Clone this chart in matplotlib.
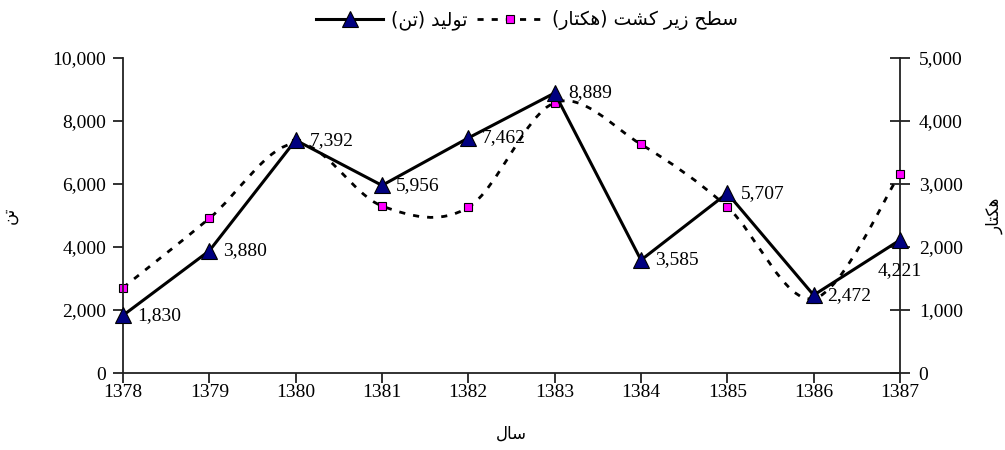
import matplotlib
matplotlib.use("Agg")
import matplotlib.pyplot as plt
from matplotlib.path import Path
from matplotlib.patches import PathPatch
from matplotlib.lines import Line2D
from matplotlib.ticker import FuncFormatter

years = [1378, 1379, 1380, 1381, 1382, 1383, 1384, 1385, 1386, 1387]
production = [1830, 3880, 7392, 5956, 7462, 8889, 3585, 5707, 2472, 4221]
area = [1354, 2455, 3646, 2651, 2630, 4290, 3630, 2635, 1180, 3163]

label_prod = "تولید (تن)"
label_area = "سطح زیر کشت (هکتار)"
label_left = "تن"
label_right = "هکتار"
label_x = "سال"

# contextual forms: (isolated, final, initial, medial); right-joining letters have two
FORMS = {
    "ا": ("\uFE8D", "\uFE8E"),
    "د": ("\uFEA9", "\uFEAA"),
    "ر": ("\uFEAD", "\uFEAE"),
    "ز": ("\uFEAF", "\uFEB0"),
    "و": ("\uFEED", "\uFEEE"),
    "ت": ("\uFE95", "\uFE96", "\uFE97", "\uFE98"),
    "ح": ("\uFEA1", "\uFEA2", "\uFEA3", "\uFEA4"),
    "س": ("\uFEB1", "\uFEB2", "\uFEB3", "\uFEB4"),
    "ش": ("\uFEB5", "\uFEB6", "\uFEB7", "\uFEB8"),
    "ط": ("\uFEC1", "\uFEC2", "\uFEC3", "\uFEC4"),
    "ل": ("\uFEDD", "\uFEDE", "\uFEDF", "\uFEE0"),
    "ن": ("\uFEE5", "\uFEE6", "\uFEE7", "\uFEE8"),
    "ه": ("\uFEE9", "\uFEEA", "\uFEEB", "\uFEEC"),
    "ک": ("\uFB8E", "\uFB8F", "\uFB90", "\uFB91"),
    "ی": ("\uFBFC", "\uFBFD", "\uFBFE", "\uFBFF"),
}
MIRROR = {"(": ")", ")": "("}


def fa(text):
    out = []
    for i, ch in enumerate(text):
        f = FORMS.get(ch)
        if f is None:
            out.append(MIRROR.get(ch, ch))
            continue
        prev = text[i - 1] if i > 0 else ""
        nxt = text[i + 1] if i + 1 < len(text) else ""
        join_prev = prev in FORMS and len(FORMS[prev]) == 4
        join_next = len(f) == 4 and nxt in FORMS
        if join_prev and join_next:
            out.append(f[3])
        elif join_prev:
            out.append(f[1])
        elif join_next:
            out.append(f[2])
        else:
            out.append(f[0])
    return "".join(reversed(out))


def smooth_path(xs, ys):
    # Catmull-Rom through the points, written as cubic Bezier segments
    n = len(xs)
    verts = [(xs[0], ys[0])]
    codes = [Path.MOVETO]
    for i in range(n - 1):
        i0, i3 = max(i - 1, 0), min(i + 2, n - 1)
        c1 = (xs[i] + (xs[i + 1] - xs[i0]) / 6, ys[i] + (ys[i + 1] - ys[i0]) / 6)
        c2 = (xs[i + 1] - (xs[i3] - xs[i]) / 6, ys[i + 1] - (ys[i3] - ys[i]) / 6)
        verts += [c1, c2, (xs[i + 1], ys[i + 1])]
        codes += [Path.CURVE4] * 3
    return Path(verts, codes)


plt.rcParams["font.family"] = ["Liberation Serif", "DejaVu Sans"]
num_font = 14
dash = (0, (2.2, 2.9))

fig = plt.figure(figsize=(10.05, 4.5), dpi=100)
ax = fig.add_axes([0.1224, 0.1711, 0.7731, 0.7])
ax2 = ax.twinx()

# area on the right axis, smoothed dashed line
ax2.add_patch(PathPatch(smooth_path(years, area), fill=False, ec="black",
                        lw=2.0, ls=dash, capstyle="butt", zorder=2))
ax2.plot(years, area, ls="none", marker="s", ms=5.5, mfc="#ff00ff",
         mec="black", mew=0.8, zorder=3, clip_on=False)

# production on the left axis
ax.plot(years, production, color="black", lw=2.2, marker="^", ms=11.5,
        mfc="#000080", mec="black", mew=0.8, zorder=4, clip_on=False)
for i, (x, y) in enumerate(zip(years, production)):
    if i == len(years) - 1:
        ax.annotate(f"{y:,}", (x, y), xytext=(0, -22), textcoords="offset points",
                    ha="center", va="center", fontsize=num_font, zorder=5)
    else:
        ax.annotate(f"{y:,}", (x, y), xytext=(10, 0), textcoords="offset points",
                    ha="left", va="center", fontsize=num_font, zorder=5)

ax.set_zorder(ax2.get_zorder() + 1)
ax.patch.set_visible(False)

ax.set_xlim(1378, 1387)
ax.set_ylim(0, 10000)
ax2.set_ylim(0, 5000)
ax.set_xticks(years)
ax.set_xticklabels([str(y) for y in years])
ax.set_yticks(range(0, 10001, 2000))
ax2.set_yticks(range(0, 5001, 1000))
fmt = FuncFormatter(lambda v, p: f"{int(v):,}")
ax.yaxis.set_major_formatter(fmt)
ax2.yaxis.set_major_formatter(fmt)

for a in (ax, ax2):
    a.spines["top"].set_visible(False)
    for s in ("left", "right", "bottom"):
        a.spines[s].set_linewidth(1.3)
        a.spines[s].set_color("#222222")
ax.spines["right"].set_visible(False)
ax2.spines["left"].set_visible(False)
ax2.spines["bottom"].set_visible(False)

ax.tick_params(axis="both", direction="out", length=7, width=1.3,
               labelsize=num_font, color="#222222")
ax.tick_params(axis="y", pad=5)
ax.tick_params(axis="x", pad=1)
ax2.tick_params(axis="y", direction="inout", length=15, width=1.3,
                labelsize=num_font, pad=6, color="#222222")

ax.set_ylabel(fa(label_left), fontsize=12, family="DejaVu Sans")
ax.yaxis.set_label_coords(-0.135, 0.5)
ax2.set_ylabel(fa(label_right), fontsize=12, family="DejaVu Sans", rotation=90)
ax2.yaxis.set_label_coords(1.11, 0.5)
ax.set_xlabel(fa(label_x), fontsize=12, family="DejaVu Sans")
ax.xaxis.set_label_coords(0.5, -0.165)

handles = [
    Line2D([], [], color="black", lw=2.2, marker="^", ms=11.5,
           mfc="#000080", mec="black", mew=0.8),
    Line2D([], [], color="black", lw=2.0, ls=dash, marker="s", ms=5.5,
           mfc="#ff00ff", mec="black", mew=0.8),
]
fig.legend(handles, [fa(label_prod), fa(label_area)], ncol=2, frameon=False,
           loc="center", bbox_to_anchor=(0.524, 0.955), handlelength=3.6,
           columnspacing=0.5, handletextpad=0.4, numpoints=1,
           prop={"family": "DejaVu Sans", "size": 13.5})

fig.savefig("out.png", dpi=100)
